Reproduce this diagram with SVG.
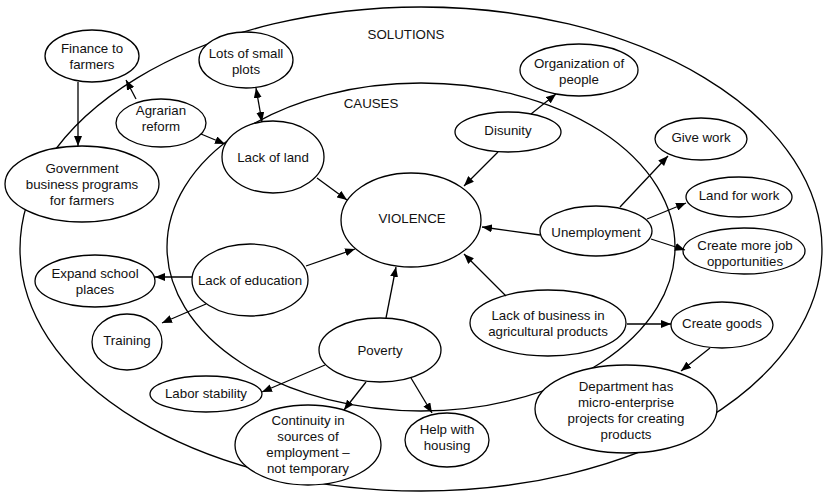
<svg xmlns="http://www.w3.org/2000/svg" width="823" height="492" viewBox="0 0 823 492">
  <defs>
    <marker id="arrow" viewBox="0 0 10 8" refX="10" refY="4" markerWidth="10" markerHeight="8" orient="auto-start-reverse" markerUnits="userSpaceOnUse">
      <path d="M0,0 L10,4 L0,8 z" fill="#000"/>
    </marker>
  </defs>
  <style>
    .zone { fill: none; stroke: #000; stroke-width: 1.3; }
    .node ellipse { fill: #fff; stroke: #000; stroke-width: 1.3; }
    text { font-family: "Liberation Sans", Arial, Helvetica, sans-serif; font-size: 13.3px; fill: #111; text-anchor: middle; }
    .links line { stroke: #000; stroke-width: 1.3; marker-end: url(#arrow); }
    .links line.both { marker-start: url(#arrow); }
  </style>

  <rect width="823" height="492" fill="#fff"/>

  <!-- outer zone: solutions; inner zone: causes -->
  <g id="zones">
    <ellipse class="zone" cx="421" cy="249" rx="401" ry="242"/>
    <ellipse class="zone" cx="421" cy="247" rx="254" ry="164"/>
    <text x="406" y="39">SOLUTIONS</text>
    <text x="371" y="108">CAUSES</text>
  </g>

  <g id="finance" class="node">
    <ellipse cx="92" cy="56" rx="47" ry="26"/>
    <text x="92" y="53">Finance to</text><text x="92" y="69">farmers</text>
  </g>
  <g id="lots" class="node">
    <ellipse cx="246" cy="60" rx="47" ry="28"/>
    <text x="246" y="58">Lots of small</text><text x="246" y="74">plots</text>
  </g>
  <g id="agrarian" class="node">
    <ellipse cx="161" cy="123" rx="45" ry="24"/>
    <text x="161" y="115">Agrarian</text><text x="161" y="131">reform</text>
  </g>
  <g id="government" class="node">
    <ellipse cx="82" cy="184" rx="77" ry="38"/>
    <text x="82" y="173">Government</text><text x="82" y="189">business programs</text><text x="82" y="205">for farmers</text>
  </g>
  <g id="lack-land" class="node">
    <ellipse cx="273" cy="157" rx="51" ry="36"/>
    <text x="273" y="162">Lack of land</text>
  </g>
  <g id="violence" class="node">
    <ellipse cx="411" cy="220" rx="70" ry="47"/>
    <text x="412" y="223">VIOLENCE</text>
  </g>
  <g id="disunity" class="node">
    <ellipse cx="508" cy="132" rx="53" ry="20"/>
    <text x="508" y="135">Disunity</text>
  </g>
  <g id="organization" class="node">
    <ellipse cx="579" cy="70" rx="59" ry="26"/>
    <text x="579" y="68">Organization of</text><text x="579" y="84">people</text>
  </g>
  <g id="give-work" class="node">
    <ellipse cx="701" cy="139" rx="46" ry="21"/>
    <text x="701" y="142">Give work</text>
  </g>
  <g id="land-work" class="node">
    <ellipse cx="739" cy="197" rx="53" ry="20"/>
    <text x="739" y="200">Land for work</text>
  </g>
  <g id="more-jobs" class="node">
    <ellipse cx="744" cy="251" rx="61" ry="23"/>
    <text x="745" y="250">Create more job</text><text x="745" y="266">opportunities</text>
  </g>
  <g id="unemployment" class="node">
    <ellipse cx="596" cy="231" rx="56" ry="25"/>
    <text x="596" y="237">Unemployment</text>
  </g>
  <g id="lack-business" class="node">
    <ellipse cx="548" cy="323" rx="78" ry="33"/>
    <text x="548" y="320">Lack of business in</text><text x="548" y="336">agricultural products</text>
  </g>
  <g id="create-goods" class="node">
    <ellipse cx="722" cy="325" rx="51" ry="23"/>
    <text x="722" y="328">Create goods</text>
  </g>
  <g id="department" class="node">
    <ellipse cx="626" cy="409" rx="91" ry="44"/>
    <text x="626" y="391">Department has</text><text x="626" y="407">micro-enterprise</text><text x="626" y="423">projects for creating</text><text x="626" y="439">products</text>
  </g>
  <g id="lack-education" class="node">
    <ellipse cx="250" cy="280" rx="58" ry="36"/>
    <text x="250" y="285">Lack of education</text>
  </g>
  <g id="expand-school" class="node">
    <ellipse cx="95" cy="281" rx="60" ry="26"/>
    <text x="95" y="278">Expand school</text><text x="95" y="294">places</text>
  </g>
  <g id="training" class="node">
    <ellipse cx="127" cy="342" rx="35" ry="28"/>
    <text x="127" y="345">Training</text>
  </g>
  <g id="labor-stability" class="node">
    <ellipse cx="206" cy="394" rx="56" ry="18"/>
    <text x="206" y="398">Labor stability</text>
  </g>
  <g id="poverty" class="node">
    <ellipse cx="380" cy="350" rx="61" ry="32"/>
    <text x="380" y="355">Poverty</text>
  </g>
  <g id="continuity" class="node">
    <ellipse cx="308" cy="445" rx="73" ry="40"/>
    <text x="308" y="425">Continuity in</text><text x="308" y="441">sources of</text><text x="308" y="457">employment –</text><text x="308" y="473">not temporary</text>
  </g>
  <g id="housing" class="node">
    <ellipse cx="447" cy="440" rx="42" ry="27"/>
    <text x="447" y="434">Help with</text><text x="447" y="450">housing</text>
  </g>

  <g id="connectors" class="links">
    <line x1="78" y1="82" x2="78" y2="146"/>
    <line x1="136" y1="99" x2="126" y2="80"/>
    <line x1="201" y1="134" x2="225" y2="144"/>
    <line class="both" x1="256" y1="88" x2="262" y2="122"/>
    <line x1="317" y1="178" x2="347" y2="200"/>
    <line x1="531" y1="114" x2="556" y2="94"/>
    <line x1="498" y1="152" x2="464" y2="186"/>
    <line x1="540" y1="235" x2="482" y2="227"/>
    <line x1="620" y1="207" x2="668" y2="156"/>
    <line x1="647" y1="219" x2="686" y2="203"/>
    <line x1="651" y1="239" x2="685" y2="250"/>
    <line x1="506" y1="296" x2="464" y2="254"/>
    <line x1="627" y1="324" x2="671" y2="324"/>
    <line x1="710" y1="348" x2="681" y2="371"/>
    <line x1="192" y1="277" x2="155" y2="277"/>
    <line x1="206" y1="304" x2="162" y2="323"/>
    <line x1="306" y1="266" x2="355" y2="249"/>
    <line x1="386" y1="318" x2="396" y2="267"/>
    <line x1="325" y1="365" x2="262" y2="392"/>
    <line x1="366" y1="382" x2="344" y2="410"/>
    <line x1="411" y1="378" x2="432" y2="413"/>
  </g>
</svg>
